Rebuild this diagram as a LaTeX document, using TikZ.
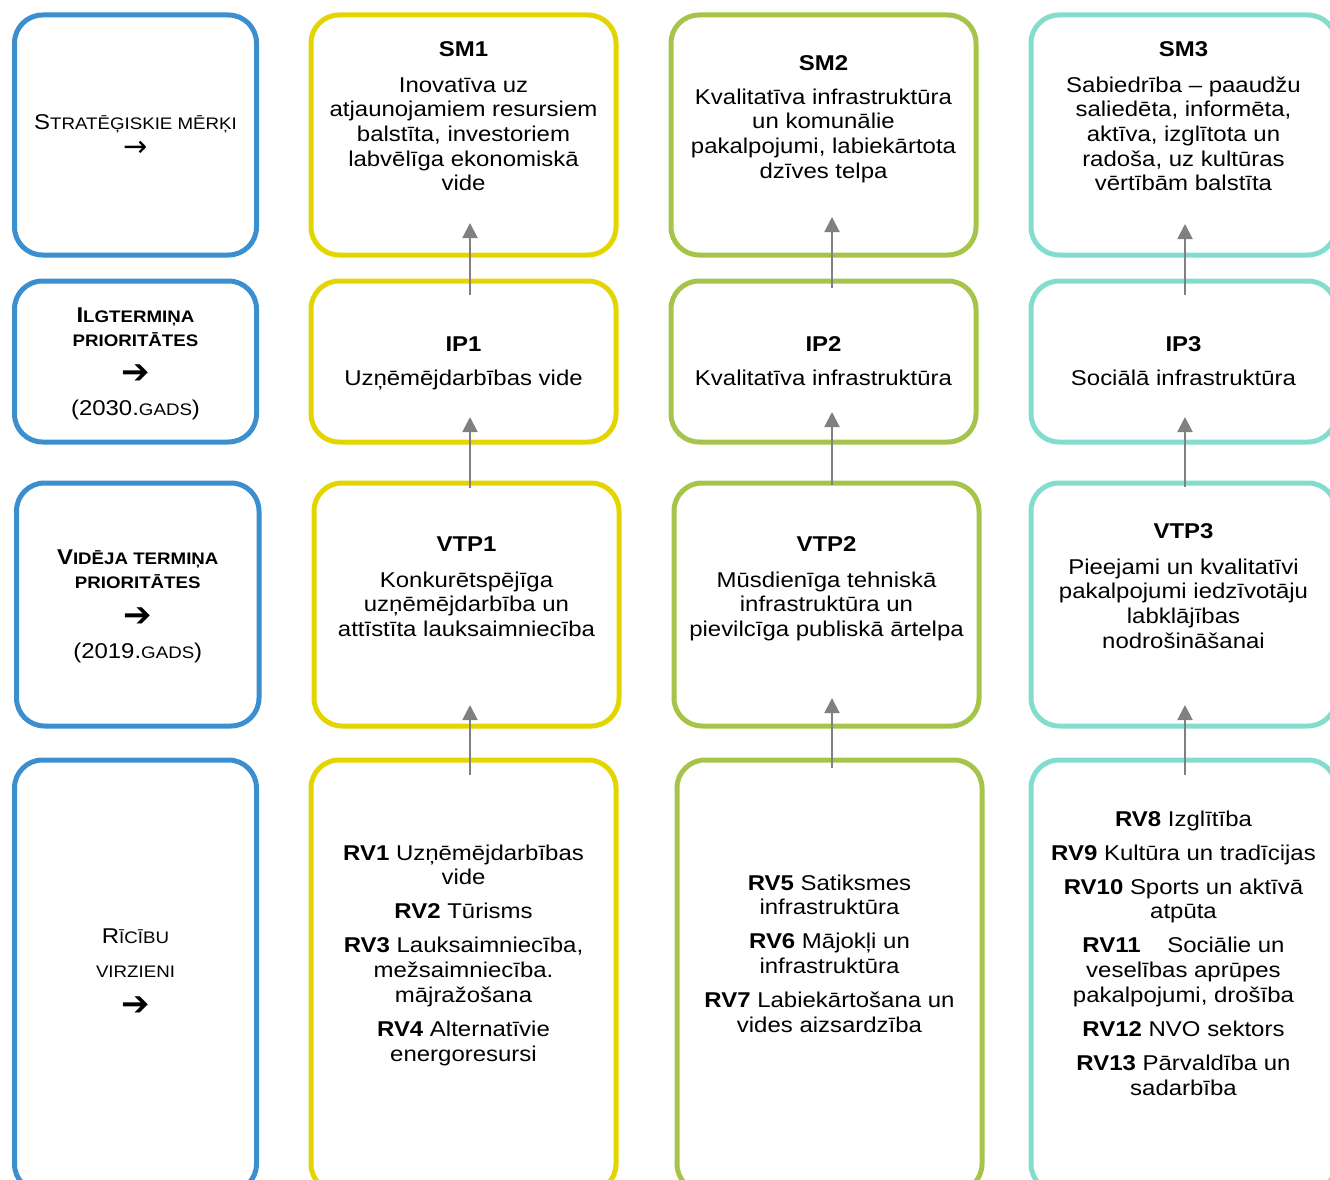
\documentclass[tikz,border=0pt]{standalone}
\usepackage{fontspec}
\setmainfont[FakeStretch=1.12]{Liberation Sans}
\newfontfamily\arrfont{DejaVu Sans}
\usetikzlibrary{arrows.meta}
\definecolor{cblue}{RGB}{59,143,206}
\definecolor{cyel}{RGB}{227,214,0}
\definecolor{cgrn}{RGB}{166,196,74}
\definecolor{cteal}{RGB}{131,221,206}
\definecolor{cgray}{RGB}{128,128,128}
\newcommand\smc[1]{{\fontsize{16.7}{24.7}\selectfont #1}}
\newcommand\rarr{{\arrfont\fontsize{29}{24.7}\selectfont\raisebox{-3pt}{→}}}
\newcommand\rarrb{{\arrfont\fontsize{34}{24.7}\selectfont\raisebox{-4pt}{➔}}}
\begin{document}
\begin{tikzpicture}[x=1pt,y=-1pt,
  box/.style={draw, line width=5pt, rounded corners=28pt, inner sep=0pt, outer sep=0pt, anchor=north west},
  txt/.style={align=center, inner sep=0pt, anchor=north, font=\fontsize{21.4}{24.7}\selectfont},
  arr/.style={draw=cgray, line width=2pt, -{Triangle[width=15pt,length=15pt]}}]
\useasboundingbox (0,0) rectangle (1330,1180);
\clip (0,0) rectangle (1330,1180);
% left column
\node[box, draw=cblue, minimum width=242pt, minimum height=240pt] (l1) at (14.5,15) {};
\node[box, draw=cblue, minimum width=242pt, minimum height=161pt] (l2) at (14.5,281) {};
\node[box, draw=cblue, minimum width=242.5pt, minimum height=243pt] (l3) at (16.5,483) {};
\node[box, draw=cblue, minimum width=242pt, minimum height=432pt] (l4) at (14.5,760) {};
% column 1
\node[box, draw=cyel, minimum width=305pt, minimum height=240pt] (sm1) at (311,15) {};
\node[box, draw=cyel, minimum width=305pt, minimum height=161pt] (ip1) at (311,281) {};
\node[box, draw=cyel, minimum width=305pt, minimum height=243pt] (vtp1) at (314,483) {};
\node[box, draw=cyel, minimum width=305pt, minimum height=432pt] (rv1) at (311,760) {};
% column 2
\node[box, draw=cgrn, minimum width=305pt, minimum height=240pt] (sm2) at (671,15) {};
\node[box, draw=cgrn, minimum width=305pt, minimum height=161pt] (ip2) at (671,281) {};
\node[box, draw=cgrn, minimum width=305pt, minimum height=243pt] (vtp2) at (674,483) {};
\node[box, draw=cgrn, minimum width=305pt, minimum height=432pt] (rv2) at (677,760) {};
% column 3
\node[box, draw=cteal, minimum width=305pt, minimum height=240pt] (sm3) at (1031,15) {};
\node[box, draw=cteal, minimum width=305pt, minimum height=161pt] (ip3) at (1031,281) {};
\node[box, draw=cteal, minimum width=305pt, minimum height=243pt] (vtp3) at (1031,483) {};
\node[box, draw=cteal, minimum width=305pt, minimum height=432pt] (rv3) at (1031,760) {};
% left texts
\node[txt] (l1t) at ([yshift=-96.7pt]l1.north) {\strut S\smc{TRATĒĢISKIE MĒRĶI}\\ \rarr};
\node[txt] (l2t) at ([yshift=-23.7pt]l2.north) {\strut\bfseries I\smc{LGTERMIŅA}\\ \smc{\bfseries PRIORITĀTES}\\[8.3pt] \rarrb\\[11.3pt] \mdseries (2030.\smc{GADS})};
\node[txt] (l3t) at ([yshift=-63.7pt]l3.north) {\strut\bfseries V\smc{IDĒJA TERMIŅA}\\ \smc{\bfseries PRIORITĀTES}\\[9.3pt] \rarrb\\[11.3pt] \mdseries (2019.\smc{GADS})};
\node[txt] (l4t) at ([yshift=-165.7pt]l4.north) {\strut R\smc{ĪCĪBU}\\[9.3pt] \smc{VIRZIENI}\\[9.3pt] \rarrb};
% column 1 texts
\node[txt] (sm1t) at ([yshift=-23.7pt]sm1.north) {\strut\textbf{SM1}\\[11.3pt] Inovatīva uz\\ atjaunojamiem resursiem\\ balstīta, investoriem\\ labvēlīga ekonomiskā\\ vide};
\node[txt] (ip1t) at ([yshift=-52.7pt]ip1.north) {\strut\textbf{IP1}\\[9.3pt] Uzņēmējdarbības vide};
\node[txt] (vtp1t) at ([yshift=-50.7pt]vtp1.north) {\strut\textbf{VTP1}\\[11.3pt] Konkurētspējīga\\ uzņēmējdarbība un\\ attīstīta lauksaimniecība};
\node[txt] (rv1t) at ([yshift=-82.7pt]rv1.north) {\strut\textbf{RV1} Uzņēmējdarbības\\ vide\\[9.3pt] \textbf{RV2} Tūrisms\\[9.3pt] \textbf{RV3} Lauksaimniecība,\\ mežsaimniecība.\\ mājražošana\\[9.3pt] \textbf{RV4} Alternatīvie\\ energoresursi};
% column 2 texts
\node[txt] (sm2t) at ([yshift=-37.7pt]sm2.north) {\strut\textbf{SM2}\\[9.3pt] Kvalitatīva infrastruktūra\\ un komunālie\\ pakalpojumi, labiekārtota\\ dzīves telpa};
\node[txt] (ip2t) at ([yshift=-52.7pt]ip2.north) {\strut\textbf{IP2}\\[9.3pt] Kvalitatīva infrastruktūra};
\node[txt] (vtp2t) at ([yshift=-50.7pt]vtp2.north) {\strut\textbf{VTP2}\\[11.3pt] Mūsdienīga tehniskā\\ infrastruktūra un\\ pievilcīga publiskā ārtelpa};
\node[txt] (rv2t) at ([yshift=-112.7pt]rv2.north) {\strut\textbf{RV5} Satiksmes\\ infrastruktūra\\[9.3pt] \textbf{RV6} Mājokļi un\\ infrastruktūra\\[9.3pt] \textbf{RV7} Labiekārtošana un\\ vides aizsardzība};
% column 3 texts
\node[txt] (sm3t) at ([yshift=-23.7pt]sm3.north) {\strut\textbf{SM3}\\[11.3pt] Sabiedrība -- paaudžu\\ saliedēta, informēta,\\ aktīva, izglītota un\\ radoša, uz kultūras\\ vērtībām balstīta};
\node[txt] (ip3t) at ([yshift=-52.7pt]ip3.north) {\strut\textbf{IP3}\\[9.3pt] Sociālā infrastruktūra};
\node[txt] (vtp3t) at ([yshift=-37.7pt]vtp3.north) {\strut\textbf{VTP3}\\[11.3pt] Pieejami un kvalitatīvi\\ pakalpojumi iedzīvotāju\\ labklājības\\ nodrošināšanai};
\node[txt] (rv3t) at ([yshift=-48.7pt]rv3.north) {\strut\textbf{RV8} Izglītība\\[9.3pt] \textbf{RV9} Kultūra un tradīcijas\\[9.3pt] \textbf{RV10} Sports un aktīvā\\ atpūta\\[9.3pt] \textbf{RV11}\hspace{20pt} Sociālie un\\ veselības aprūpes\\ pakalpojumi, drošība\\[9.3pt] \textbf{RV12} NVO sektors\\[9.3pt] \textbf{RV13} Pārvaldība un\\ sadarbība};
% arrows column 1
\draw[arr] ([xshift=6.5pt,yshift=-14pt]ip1.north) -- ([xshift=6.5pt,yshift=32pt]sm1.south);
\draw[arr] ([xshift=3.5pt,yshift=-5pt]vtp1.north) -- ([xshift=6.5pt,yshift=25pt]ip1.south);
\draw[arr] ([xshift=6.5pt,yshift=-15pt]rv1.north) -- ([xshift=3.5pt,yshift=21pt]vtp1.south);
% arrows column 2
\draw[arr] ([xshift=8.5pt,yshift=-7pt]ip2.north) -- ([xshift=8.5pt,yshift=38pt]sm2.south);
\draw[arr] ([xshift=5.5pt,yshift=-2pt]vtp2.north) -- ([xshift=8.5pt,yshift=30pt]ip2.south);
\draw[arr] ([xshift=2.5pt,yshift=-8pt]rv2.north) -- ([xshift=5.5pt,yshift=28pt]vtp2.south);
% arrows column 3
\draw[arr] ([xshift=1.5pt,yshift=-14pt]ip3.north) -- ([xshift=1.5pt,yshift=31pt]sm3.south);
\draw[arr] ([xshift=1.5pt,yshift=-4pt]vtp3.north) -- ([xshift=1.5pt,yshift=25pt]ip3.south);
\draw[arr] ([xshift=1.5pt,yshift=-15pt]rv3.north) -- ([xshift=1.5pt,yshift=21pt]vtp3.south);
\end{tikzpicture}
\end{document}
